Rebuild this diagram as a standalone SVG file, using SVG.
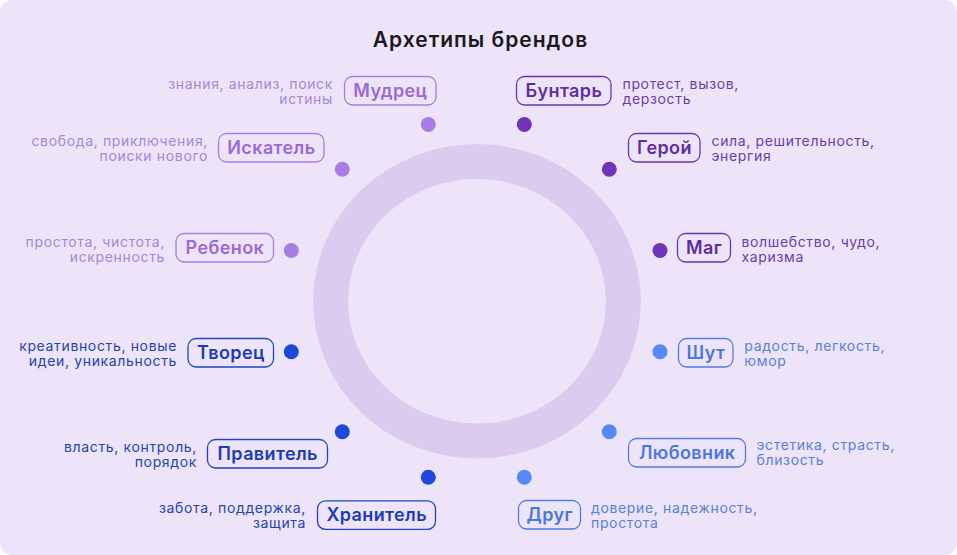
<svg xmlns="http://www.w3.org/2000/svg" width="957" height="555" viewBox="0 0 957 555">
<style>
.t{font-family:Inter,"Noto Sans","Liberation Sans",sans-serif}
.lbl{font-size:18px;font-weight:600;text-anchor:middle;letter-spacing:0.4px}
.d{font-size:14px;font-weight:400;letter-spacing:0.65px}
.r{text-anchor:end}
.box{fill:none;stroke-width:1.3}
.c1 .box{stroke:#A77BDF}.c1 .lbl{fill:#9A69D8}.c1 .d{fill:#A587D6}.c1 circle{fill:#A97BE4}
.c2 .box{stroke:#6A35B0}.c2 .lbl{fill:#5E2CA4}.c2 .d{fill:#6A3DAD}.c2 circle{fill:#6E35B6}
.c3 .box{stroke:#1F43C2}.c3 .lbl{fill:#1A3DB5}.c3 .d{fill:#2344B0}.c3 circle{fill:#1E48DA}
.c4 .box{stroke:#4F7BE2}.c4 .lbl{fill:#4A77DE}.c4 .d{fill:#5A80D8}.c4 circle{fill:#5688F7}
</style>
<rect x="0" y="0" width="957" height="555" fill="#ffffff"/>
<rect x="0" y="0" width="957" height="555" rx="12" fill="#EEE4FA"/>
<text class="t" x="480.5" y="47" text-anchor="middle" font-size="21" font-weight="600" letter-spacing="1" fill="#1a1a1f">Архетипы брендов</text>
<g id="ring"><ellipse cx="477" cy="301.3" rx="146.3" ry="139.7" fill="none" stroke="#DCCAEF" stroke-width="35"/></g>
<g id="connectors"></g>

<g id="mudrec" class="t c1">
<rect class="box" x="344.5" y="76.5" width="91.5" height="28.5" rx="8"/>
<text class="lbl" x="390.4" y="97">Мудрец</text>
<text class="d r" x="333" y="89">знания, анализ, поиск<tspan x="333" dy="15">истины</tspan></text>
<circle cx="428.3" cy="124.5" r="7.5"/>
</g>
<g id="iskatel" class="t c1">
<rect class="box" x="218.5" y="133.5" width="105.5" height="28.5" rx="8"/>
<text class="lbl" x="271.4" y="154">Искатель</text>
<text class="d r" x="208" y="146">свобода, приключения,<tspan x="208" dy="15">поиски нового</tspan></text>
<circle cx="342.3" cy="169.3" r="7.5"/>
</g>
<g id="rebenok" class="t c1">
<rect class="box" x="176" y="233.5" width="97.5" height="28.5" rx="8"/>
<text class="lbl" x="224.9" y="254">Ребенок</text>
<text class="d r" x="165" y="246.5">простота, чистота,<tspan x="165" dy="15">искренность</tspan></text>
<circle cx="291.3" cy="250.5" r="7.5"/>
</g>
<g id="tvorec" class="t c3">
<rect class="box" x="188" y="338.5" width="85.5" height="28.5" rx="8"/>
<text class="lbl" x="230.9" y="359">Творец</text>
<text class="d r" x="177" y="351">креативность, новые<tspan x="177" dy="15">идеи, уникальность</tspan></text>
<circle cx="291.3" cy="351.8" r="7.5"/>
</g>
<g id="pravitel" class="t c3">
<rect class="box" x="207.5" y="439.5" width="120" height="28.5" rx="8"/>
<text class="lbl" x="267.7" y="460">Правитель</text>
<text class="d r" x="197" y="451.7">власть, контроль,<tspan x="197" dy="15">порядок</tspan></text>
<circle cx="342.3" cy="431.7" r="7.5"/>
</g>
<g id="hranitel" class="t c3">
<rect class="box" x="317.5" y="500.8" width="118" height="28.5" rx="8"/>
<text class="lbl" x="376.7" y="521.3">Хранитель</text>
<text class="d r" x="306" y="512.7">забота, поддержка,<tspan x="306" dy="15">защита</tspan></text>
<circle cx="428.3" cy="477.3" r="7.5"/>
</g>
<g id="buntar" class="t c2">
<rect class="box" x="516.5" y="76.5" width="94.5" height="28.5" rx="8"/>
<text class="lbl" x="563.9" y="97">Бунтарь</text>
<text class="d" x="622.5" y="89">протест, вызов,<tspan x="622.5" dy="15">дерзость</tspan></text>
<circle cx="524.3" cy="124.5" r="7.5"/>
</g>
<g id="geroy" class="t c2">
<rect class="box" x="628.5" y="133.5" width="71.5" height="28.5" rx="8"/>
<text class="lbl" x="664.4" y="154">Герой</text>
<text class="d" x="711.5" y="146">сила, решительность,<tspan x="711.5" dy="15">энергия</tspan></text>
<circle cx="609.3" cy="169.3" r="7.5"/>
</g>
<g id="mag" class="t c2">
<rect class="box" x="677.5" y="233.5" width="53" height="28.5" rx="8"/>
<text class="lbl" x="704.2" y="254">Маг</text>
<text class="d" x="741.5" y="246.5">волшебство, чудо,<tspan x="741.5" dy="15">харизма</tspan></text>
<circle cx="660" cy="250.5" r="7.5"/>
</g>
<g id="shut" class="t c4">
<rect class="box" x="678.5" y="338.5" width="54.5" height="28.5" rx="8"/>
<text class="lbl" x="705.9" y="359">Шут</text>
<text class="d" x="744.3" y="351">радость, легкость,<tspan x="744.3" dy="15">юмор</tspan></text>
<circle cx="660" cy="351.8" r="7.5"/>
</g>
<g id="lyubovnik" class="t c4">
<rect class="box" x="628.5" y="438.5" width="117" height="28.5" rx="8"/>
<text class="lbl" x="687.2" y="459">Любовник</text>
<text class="d" x="756.5" y="450">эстетика, страсть,<tspan x="756.5" dy="15">близость</tspan></text>
<circle cx="609.3" cy="431.7" r="7.5"/>
</g>
<g id="drug" class="t c4">
<rect class="box" x="518.5" y="500.5" width="62" height="28.5" rx="8"/>
<text class="lbl" x="549.7" y="521">Друг</text>
<text class="d" x="591" y="512.7">доверие, надежность,<tspan x="591" dy="15">простота</tspan></text>
<circle cx="524.3" cy="477.3" r="7.5"/>
</g>
</svg>
